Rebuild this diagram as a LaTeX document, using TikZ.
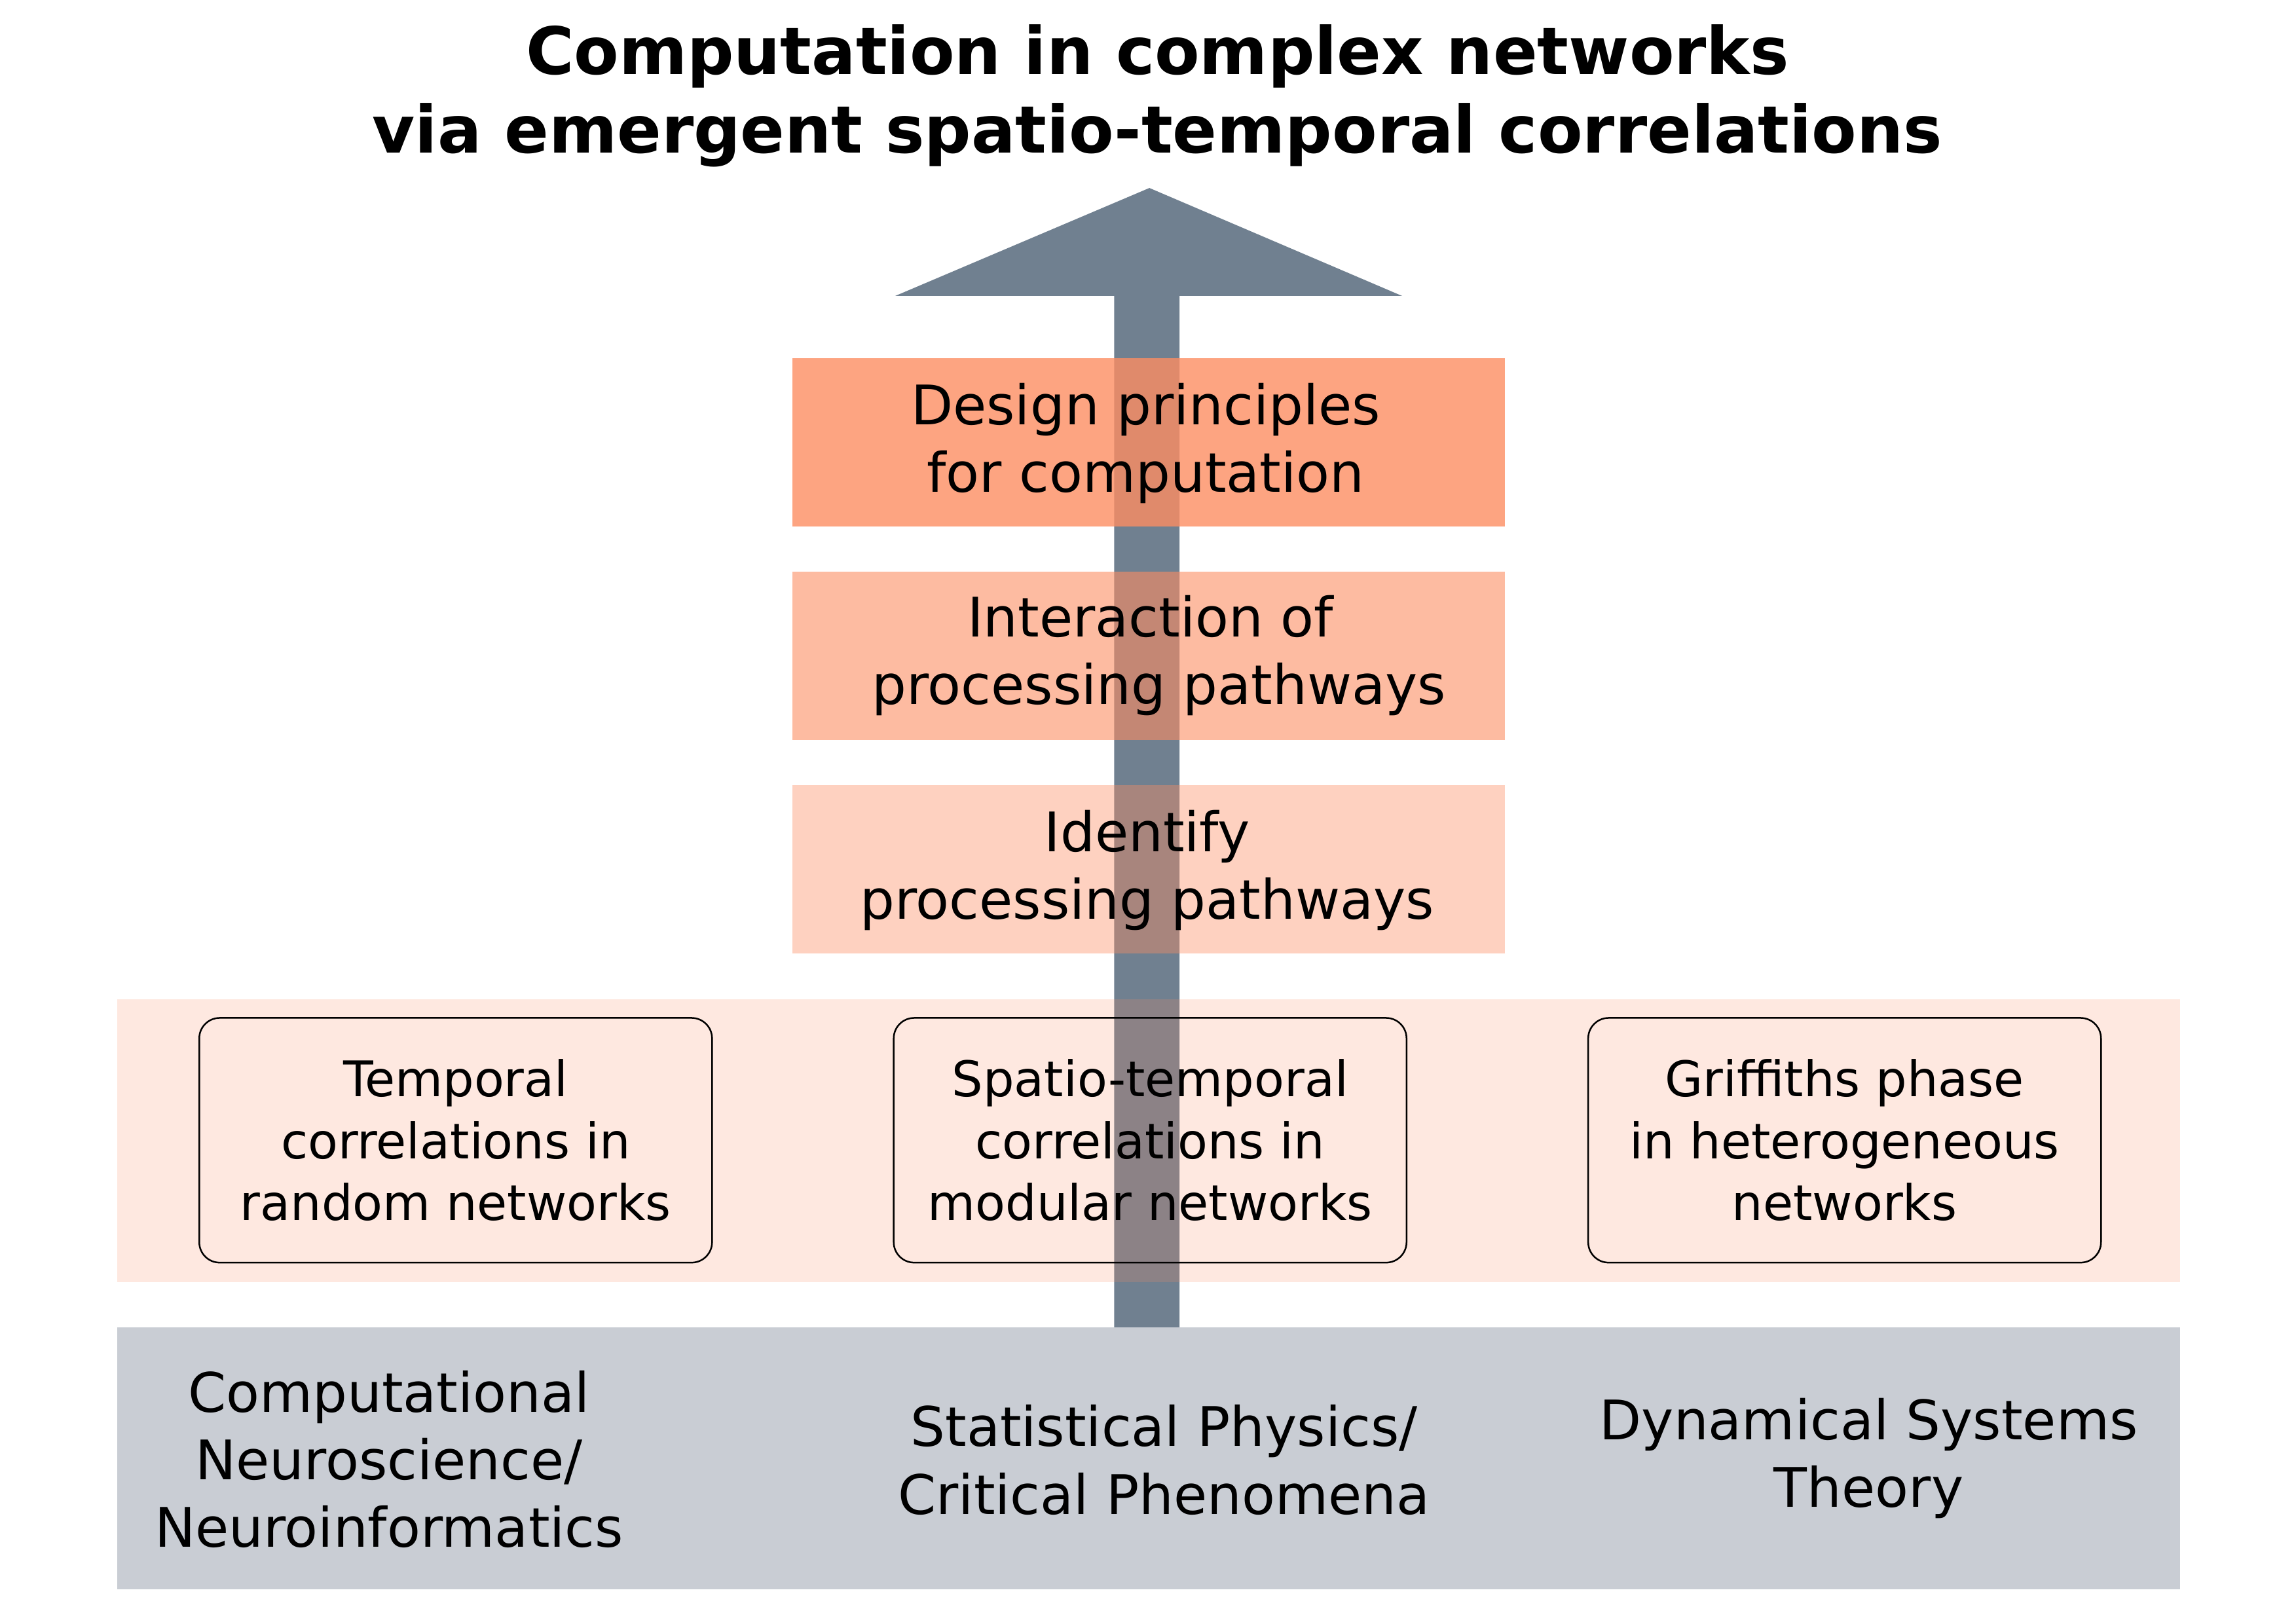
\documentclass[tikz,border=0pt]{standalone}
\usepackage{fontspec}
\setmainfont{DejaVu Sans}
\definecolor{tierorange}{HTML}{FC8D62}
\definecolor{shaftgray}{HTML}{708090}
\definecolor{basegray}{RGB}{201,205,212}
\begin{document}
\begin{tikzpicture}[x=0.53722pt,y=-0.53722pt,
  tier/.style={fill=tierorange, inner sep=0pt,
    minimum width=261.09pt, minimum height=61.78pt},
  tiertext/.style={align=center, inner sep=0pt, font=\fontsize{20}{24.8}\selectfont},
  band/.style={inner sep=0pt, minimum width=756.41pt},
  roundbox/.style={draw=black, line width=0.6pt, rounded corners=7.5pt,
    minimum width=188.03pt, minimum height=89.72pt, inner sep=0pt, align=center,
    font=\fontsize{18}{22.7}\selectfont},
  fieldtext/.style={align=center, inner sep=0pt, font=\fontsize{20}{24.8}\selectfont},
  titletext/.style={align=center, inner sep=0pt, font=\fontsize{24}{28.8}\selectfont\bfseries}]
\useasboundingbox (0,0) rectangle (1567.1,1108.1);
% title
\node[titletext] (title) at (790,65.5) {Computation in complex networks\\via emergent spatio-temporal correlations};
% big arrow
\coordinate (tip) at (784.5,128.3);
\fill[shaftgray] (760.5,906) -- (760.5,202) -- (611,202) -- (tip) -- (957,202) -- (805,202) -- (805,906) -- cycle;
% tiers
\node[tier, fill opacity=0.8] (designbox) at (784,302) {};
\node[tier, fill opacity=0.6] (interactbox) at (784,447.5) {};
\node[tier, fill opacity=0.4] (identifybox) at (784,593.5) {};
\node[tiertext] (design) at (782,302.5) {Design principles\\for computation};
\node[tiertext] (interact) at (791,447.5) {Interaction of\kern6.4pt\\processing pathways};
\node[tiertext] (identify) at (783,594) {Identify\\processing pathways};
% correlation band
\node[band, fill=tierorange, fill opacity=0.2, minimum height=103.68pt] (corrband) at (784,778.5) {};
\node[roundbox] (temporal) at (311,778.3) {Temporal\\correlations in\\random networks};
\node[roundbox] (spatio) at (785,778.3) {Spatio-temporal\\correlations in\\modular networks};
\node[roundbox] (griffiths) at (1259,778.3) {Griffiths phase\\in heterogeneous\\networks};
% base band
\node[band, fill=basegray, minimum height=96.16pt] (baseband) at (784,995.5) {};
\node[fieldtext] (neuro) at (265.5,996) {Computational\\Neuroscience/\\Neuroinformatics};
\node[fieldtext] (statphys) at (794.5,996.5) {Statistical Physics/\\Critical Phenomena};
\node[fieldtext] (dynsys) at (1275.5,995.5) {Dynamical Systems\\Theory};
\end{tikzpicture}
\end{document}
